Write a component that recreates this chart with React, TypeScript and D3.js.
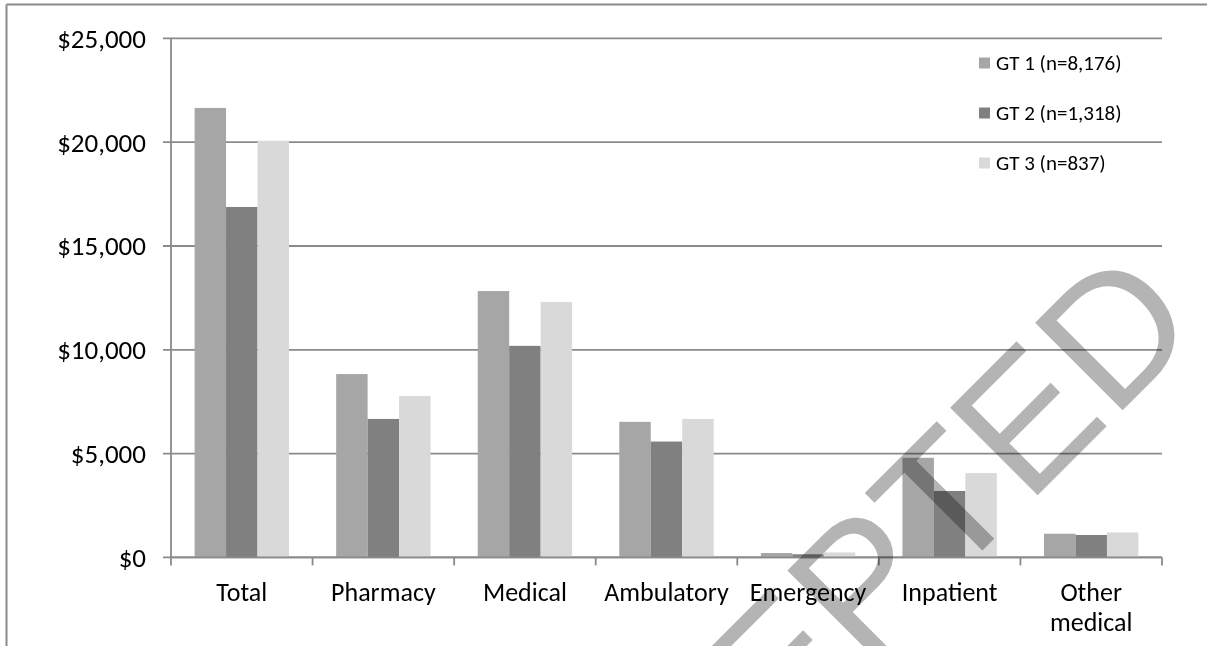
import * as d3 from "d3";

const categories = ["Total", "Pharmacy", "Medical", "Ambulatory", "Emergency", "Inpatient", "Other medical"];
const seriesNames = ["GT 1 (n=8,176)", "GT 2 (n=1,318)", "GT 3 (n=837)"];
const gt1 = [21650, 8830, 12830, 6530, 210, 4800, 1140];
const gt2 = [16880, 6670, 10190, 5580, 150, 3200, 1080];
const gt3 = [20070, 7770, 12300, 6670, 240, 4060, 1200];
const yTicks = [0, 5000, 10000, 15000, 20000, 25000];

const colors = ["#a6a6a6", "#808080", "#d9d9d9"];
const W = 1207;
const H = 646;
const font = "Carlito, Calibri, Lato, sans-serif";

export default function App() {
  const left = 171;
  const right = 1162;
  const top = 38.4;
  const bottom = 557.4;

  const x = d3.scaleBand().domain(categories).range([left, right]).paddingInner(0).paddingOuter(0);
  const inner = d3
    .scaleBand<number>()
    .domain([0, 1, 2])
    .range([0, x.bandwidth()])
    .paddingInner(0)
    .paddingOuter(0.75);
  const y = d3.scaleLinear().domain([0, 25000]).range([bottom, top]);
  const fmt = (v: number) => "$" + d3.format(",")(v);
  const series = [gt1, gt2, gt3];
  const grid = "#8a8a8a";

  return (
    <svg
      width={W}
      height={H}
      style={{ position: "absolute", left: 0, top: 0, background: "#fff" }}
      fontFamily={font}
    >
      {/* outer frame */}
      <line x1={6.5} x2={W} y1={4.5} y2={4.5} stroke={grid} strokeWidth={2} />
      <line x1={6.5} x2={6.5} y1={4.5} y2={H} stroke={grid} strokeWidth={2} />

      {yTicks.map((t) => (
        <g key={t}>
          <line x1={163} x2={right} y1={y(t)} y2={y(t)} stroke={grid} strokeWidth={1.8} />
          <text x={146} y={y(t)} dy="0.35em" textAnchor="end" fontSize={27} fill="#000">
            {fmt(t)}
          </text>
        </g>
      ))}

      {series.map((vals, si) =>
        categories.map((c, ci) => (
          <rect
            key={si + "-" + c}
            x={(x(c) ?? 0) + (inner(si) ?? 0)}
            y={y(vals[ci])}
            width={inner.bandwidth()}
            height={bottom - y(vals[ci])}
            fill={colors[si]}
          />
        ))
      )}

      <line x1={left} x2={left} y1={top} y2={bottom} stroke={grid} strokeWidth={1.8} />
      <line x1={left} x2={right} y1={bottom} y2={bottom} stroke={grid} strokeWidth={1.8} />
      {d3.range(categories.length + 1).map((i) => {
        const xx = left + i * x.step();
        return <line key={i} x1={xx} x2={xx} y1={bottom} y2={bottom + 8} stroke={grid} strokeWidth={1.8} />;
      })}

      {categories.map((c) => {
        const words = c === "Other medical" ? ["Other", "medical"] : [c];
        return (
          <text key={c} x={(x(c) ?? 0) + x.bandwidth() / 2} y={601} textAnchor="middle" fontSize={26} fill="#000">
            {words.map((w, i) => (
              <tspan key={w} x={(x(c) ?? 0) + x.bandwidth() / 2} dy={i === 0 ? 0 : 30}>
                {w}
              </tspan>
            ))}
          </text>
        );
      })}

      {seriesNames.map((s, i) => (
        <g key={s} transform={`translate(979,${63 + i * 50})`}>
          <rect x={0} y={-5.5} width={11} height={11} fill={colors[i]} />
          <text x={17} y={0} dy="0.35em" fontSize={21} fill="#000">
            {s}
          </text>
        </g>
      ))}

      {/* watermark */}
      <text
        transform="translate(511,1022) rotate(-45)"
        fontFamily="Liberation Sans, Arial, sans-serif"
        fontSize={180}
        fill="#b4b4b4"
        style={{ mixBlendMode: "multiply" }}
      >
        ACCEPTED
      </text>
    </svg>
  );
}
